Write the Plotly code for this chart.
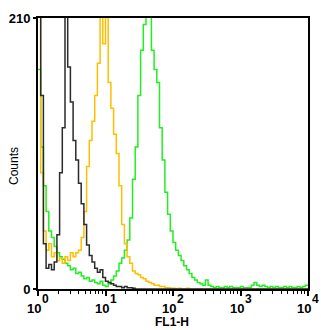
import math
import plotly.graph_objects as go

# Histogram channels: 100 log-spaced bins covering 10^0 .. 10^4 (0.04 decade each)
bin_step = 0.04
n_bins = 100
bin_edges = [10 ** (k * bin_step) for k in range(n_bins + 1)]

black_counts = [300, 150, 35, 16, 19, 15, 21, 42, 90, 125,
                240, 172, 145, 115, 100, 82, 66, 50, 34, 26,
                21, 16, 13, 15, 9, 6, 5, 4, 3, 2,
                2, 1, 2, 1, 1, 0.5, 0, 0, 0, 0] + [0] * 60

orange_counts = [300, 90, 45, 30, 35, 25, 28, 22, 24, 20,
                 25, 22, 28, 25, 28, 30, 40, 60, 95, 115,
                 130, 150, 175, 230, 190, 225, 160, 140, 120, 105,
                 80, 50, 35, 25, 20, 14, 12, 11, 9, 8,
                 6, 5, 4, 3, 3, 2, 2, 1, 1, 0.5,
                 0.5, 0, 0.5, 0, 0, 0.5, 0, 0, 0, 0] + [0] * 40

green_counts = [170, 110, 80, 60, 45, 40, 33, 28, 25, 23,
                20, 18, 15, 16, 12, 13, 10, 8, 9, 6,
                7, 5, 4, 6, 3, 2, 4, 7, 10, 14,
                20, 24, 30, 38, 55, 85, 110, 150, 185, 205,
                240, 230, 185, 170, 160, 125, 100, 75, 58, 45,
                36, 30, 26, 22, 18, 15, 12, 9, 7, 5,
                4, 3, 7, 3, 2, 1, 2, 1, 1, 2,
                1, 2, 1, 1, 1, 2, 1, 1, 1, 3,
                5, 3, 2, 3, 2, 1, 2, 1, 2, 1,
                1, 2, 1, 2, 1, 1, 2, 1, 2, 3]

x_tick_vals = [1, 10, 100, 1000, 10000]
x_tick_base = ["10", "10", "10", "10", "10"]
x_tick_exp = ["0", "1", "2", "3", "4"]
y_tick_vals = [0, 210]
y_tick_text = ["0", "210"]
y_max = 210

series = [
    ("green", green_counts, "#22EE22"),
    ("orange", orange_counts, "#FFBE00"),
    ("black", black_counts, "#2B2B2B"),
]

fig = go.Figure()
for name, counts, color in series:
    xs = bin_edges[:]
    ys = counts + [counts[-1]]
    fig.add_trace(go.Scatter(x=xs, y=ys, mode="lines", name=name,
                             line=dict(color=color, width=1.5, shape="hv"),
                             showlegend=False, hoverinfo="skip"))

minor_vals = [k * 10 ** d for d in range(4) for k in range(2, 10)]
font_family = "Liberation Sans, Arial, sans-serif"

W, H = 321, 330
L, T = 38, 18
R = W - 308
B = H - 289
pa_w = W - L - R
pa_h = H - T - B


def px_to_paper(sx, sy):
    return (sx - L) / pa_w, (H - B - sy) / pa_h


cx, cy = px_to_paper(14, 166)
fx_, fy_ = px_to_paper(172, 322)
_, base_y = px_to_paper(0, 309)
_, exp_y = px_to_paper(0, 299)

annotations = [
    dict(text="Counts", x=cx, y=cy, xref="paper", yref="paper",
         xanchor="center", yanchor="middle",
         showarrow=False, textangle=-90, font=dict(size=12, family=font_family)),
    dict(text="FL1-H", x=fx_, y=fy_, xref="paper", yref="paper",
         xanchor="center", yanchor="middle",
         showarrow=False, font=dict(size=12, weight="bold", family=font_family)),
]
for v, base, ex in zip(x_tick_vals, x_tick_base, x_tick_exp):
    lv = math.log10(v)
    annotations.append(dict(text=base, x=lv, y=base_y, xref="x", yref="paper",
                            xanchor="right", yanchor="middle", xshift=5,
                            showarrow=False,
                            font=dict(size=13, weight="bold", family=font_family)))
    annotations.append(dict(text=ex, x=lv, y=exp_y, xref="x", yref="paper",
                            xanchor="left", yanchor="middle", xshift=2,
                            showarrow=False,
                            font=dict(size=12, weight="bold", family=font_family)))

fig.update_layout(
    width=W, height=H,
    margin=dict(l=L, r=R, t=T, b=B, autoexpand=False),
    paper_bgcolor="white", plot_bgcolor="white",
    font=dict(family=font_family, color="black"),
    xaxis=dict(type="log", range=[0, 4], showgrid=False, zeroline=False, automargin=False,
               showline=True, mirror=True, linecolor="black", linewidth=2,
               ticks="outside", ticklen=5, tickwidth=1.5, tickcolor="black",
               tickvals=x_tick_vals, showticklabels=False,
               minor=dict(ticks="outside", ticklen=3, tickwidth=1.2, tickcolor="black",
                          tickvals=minor_vals, showgrid=False)),
    yaxis=dict(range=[0, y_max], showgrid=False, zeroline=False, automargin=False,
               showline=True, mirror=True, linecolor="black", linewidth=2,
               ticks="outside", ticklen=3, tickwidth=1.5, tickcolor="black",
               tickvals=y_tick_vals, ticktext=y_tick_text,
               tickfont=dict(size=13, weight="bold", family=font_family)),
    annotations=annotations,
)

fig.write_html(
    "out.html",
    config={"displayModeBar": False},
    post_script="document.body.style.margin='0';document.documentElement.style.overflow='hidden';document.body.style.overflow='hidden';",
)
